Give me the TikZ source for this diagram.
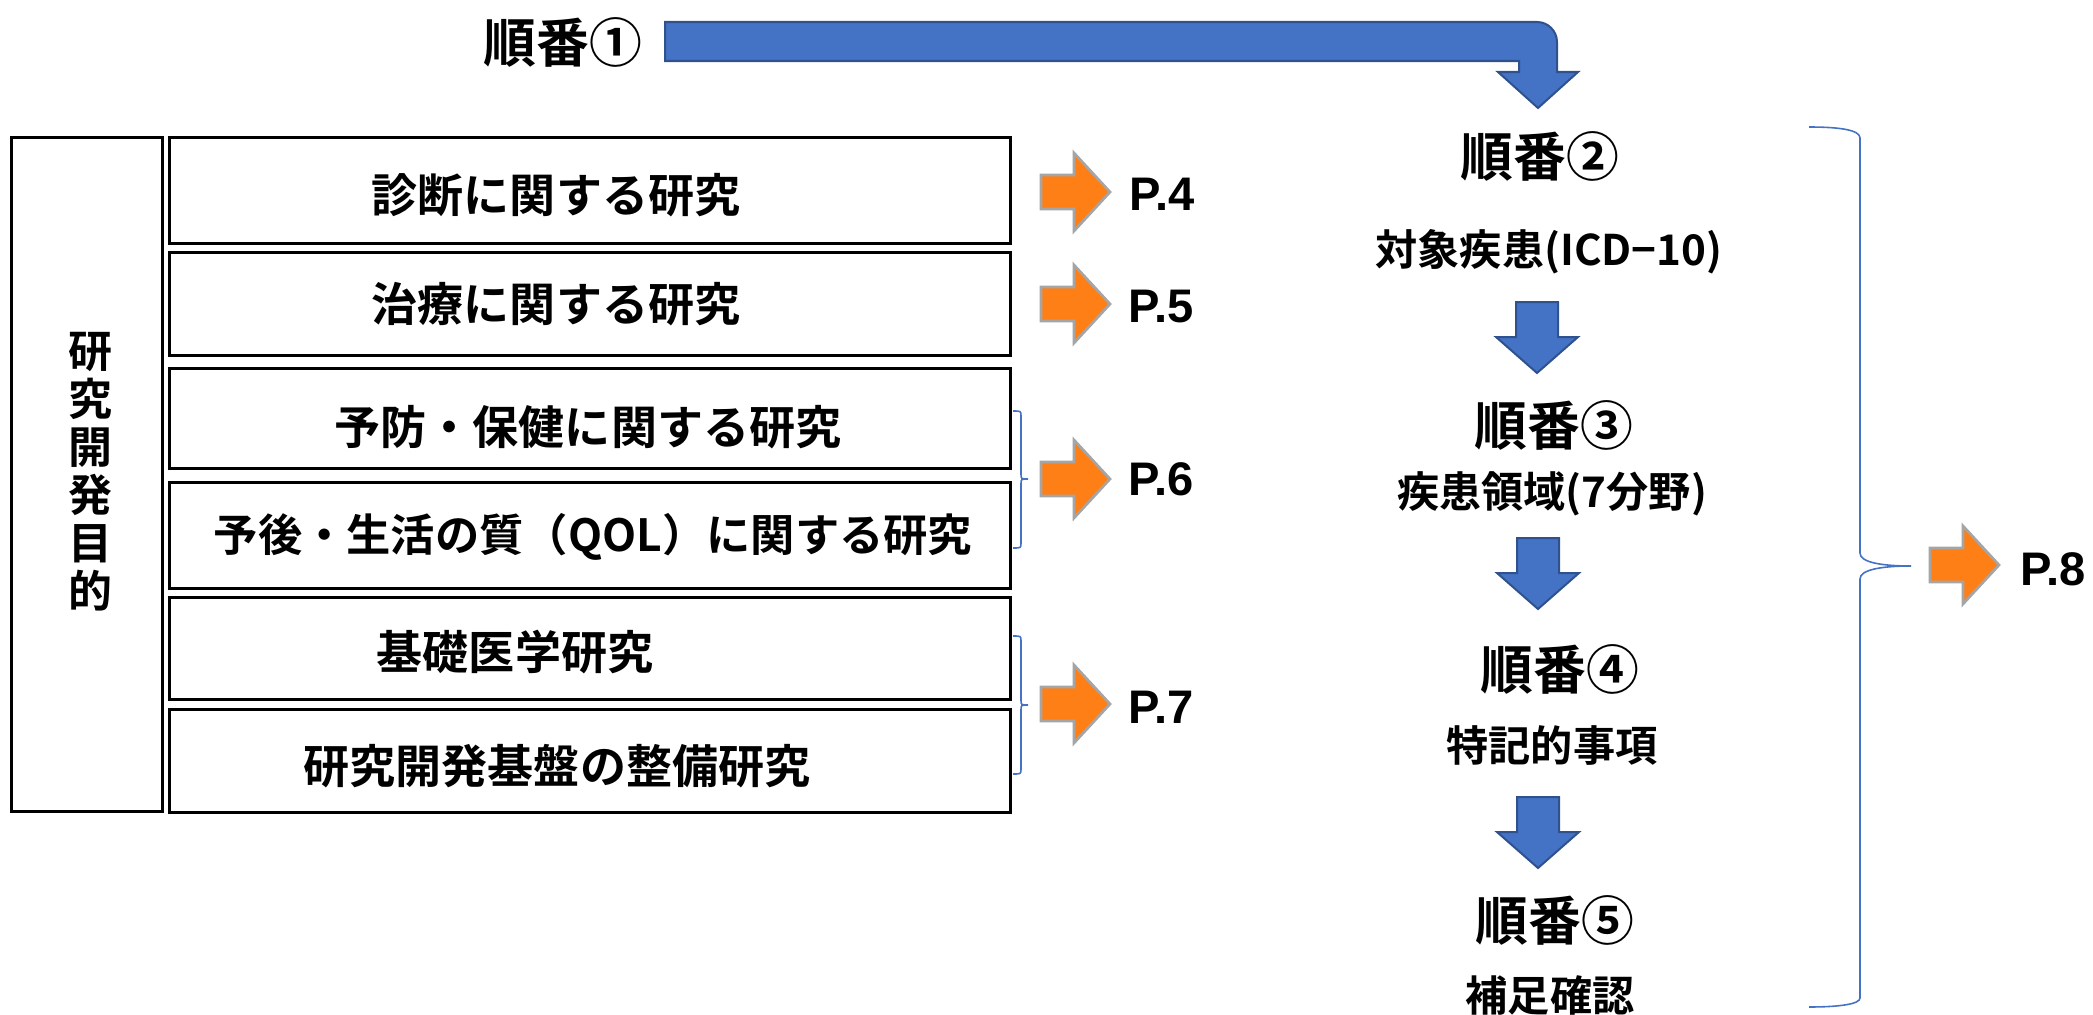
\documentclass[tikz,border=0pt]{standalone}
\usepackage{fontspec}
\setmainfont{Noto Sans CJK JP}[BoldFont={Noto Sans CJK JP Bold}]
\newfontfamily\pagefont{Liberation Sans}
\definecolor{flowblue}{HTML}{4472C4}
\definecolor{flowedge}{HTML}{2F528F}
\definecolor{pageorange}{HTML}{FF7F17}
\definecolor{pageedge}{HTML}{A5A5A5}

\begin{document}
\begin{tikzpicture}[x=0.01cm,y=-0.01cm,
  every node/.style={font=\bfseries,inner sep=0pt},
  box/.style={draw,rectangle,line width=0.03cm,minimum width=8.4cm},
  boxtext/.style={font=\bfseries\fontsize{13.1pt}{15pt}\selectfont},
  order/.style={font=\bfseries\fontsize{15pt}{18pt}\selectfont},
  sub/.style={font=\bfseries\fontsize{12pt}{14pt}\selectfont},
  page/.style={anchor=west,font=\pagefont\bfseries\fontsize{13.4pt}{16pt}\selectfont},
  pagearrow/.style={fill=pageorange,draw=pageedge,line width=0.027cm},
  flowarrow/.style={fill=flowblue,draw=flowedge,line width=0.02cm},
  brace/.style={draw=flowblue,line width=0.45pt},
  rarrow/.pic={\path[pagearrow] (-34,-17) -- (-1,-17) -- (-1,-39) -- (35,0) -- (-1,39) -- (-1,17) -- (-34,17) -- cycle;},
  darrow/.pic={\path[flowarrow] (-21,-35) -- (21,-35) -- (21,0) -- (41,0) -- (0,36) -- (-41,0) -- (-21,0) -- cycle;}]
\useasboundingbox (0,0) rectangle (2093,1015);

% step one and the bent arrow
\node[order] (order1) at (563,42) {順番①};
\path[flowarrow] (665,22) -- (1537,22) .. controls (1548,22) and (1557,31) .. (1557,42) -- (1557,72) -- (1578,72) -- (1538,108) -- (1498,72) -- (1519,72) -- (1519,61) -- (665,61) -- cycle;

% purposes of research
\node[box,minimum width=1.5cm,minimum height=6.73cm] (purpose) at (87,474.5) {};
\node[font=\bfseries\fontsize{12.5pt}{13.66pt}\selectfont,align=center] (purpose-text) at (90,472) {研\\究\\開\\発\\目\\的};

\node[box,minimum height=1.05cm] (diag) at (590,190.5) {};
\node[boxtext] (diag-text) at (556,195) {診断に関する研究};
\node[box,minimum height=1.02cm] (treat) at (590,304) {};
\node[boxtext] (treat-text) at (556,304) {治療に関する研究};
\node[box,minimum height=0.99cm] (prevent) at (590,418.5) {};
\node[boxtext] (prevent-text) at (588,427) {予防・保健に関する研究};
\node[box,minimum height=1.05cm] (prognosis) at (590,535.5) {};
\node[boxtext,font=\bfseries\fontsize{12.6pt}{15pt}\selectfont] (prognosis-text) at (593,537) {予後・生活の質（QOL）に関する研究};
\node[box,minimum height=1.01cm] (basic) at (590,648.5) {};
\node[boxtext] (basic-text) at (515,652) {基礎医学研究};
\node[box,minimum height=1.02cm] (infra) at (590,761) {};
\node[boxtext] (infra-text) at (557,766) {研究開発基盤の整備研究};

% page arrows
\pic at (1075,192) {rarrow};
\node[page] (p4) at (1129,194) {P.4};
\pic at (1075,304) {rarrow};
\node[page] (p5) at (1128,307) {P.5};
\draw[brace] (1013,411) .. controls (1021,411) .. (1021,416) -- (1021,474) .. controls (1021,479) .. (1028,479) .. controls (1021,479) .. (1021,484) -- (1021,543) .. controls (1021,548) .. (1013,548);
\pic at (1075,479) {rarrow};
\node[page] (p6) at (1128,479) {P.6};
\draw[brace] (1013,636) .. controls (1021,636) .. (1021,641) -- (1021,700) .. controls (1021,705) .. (1028,705) .. controls (1021,705) .. (1021,710) -- (1021,769) .. controls (1021,774) .. (1013,774);
\pic at (1075,704) {rarrow};
\node[page] (p7) at (1128,707) {P.7};

% steps two to five
\node[order] (order2) at (1540,156) {順番②};
\node[sub] (order2-sub) at (1549,252) {対象疾患(ICD−10)};
\pic at (1537,337) {darrow};
\node[order] (order3) at (1554,425) {順番③};
\node[sub] (order3-sub) at (1552,494) {疾患領域(7分野)};
\pic at (1538,573) {darrow};
\node[order] (order4) at (1560,669) {順番④};
\node[sub] (order4-sub) at (1552,745) {特記的事項};
\pic at (1538,832) {darrow};
\node[order] (order5) at (1555,920) {順番⑤};
\node[sub] (order5-sub) at (1550,995) {補足確認};

\draw[brace] (1809,127) .. controls (1840,127) and (1860,130) .. (1860,138) -- (1860,553) .. controls (1860,562) and (1880,566) .. (1911,566) .. controls (1880,566) and (1860,570) .. (1860,579) -- (1860,998) .. controls (1860,1004) and (1840,1007) .. (1809,1007);
\pic at (1964,565) {rarrow};
\node[page] (p8) at (2020,569) {P.8};
\end{tikzpicture}
\end{document}
